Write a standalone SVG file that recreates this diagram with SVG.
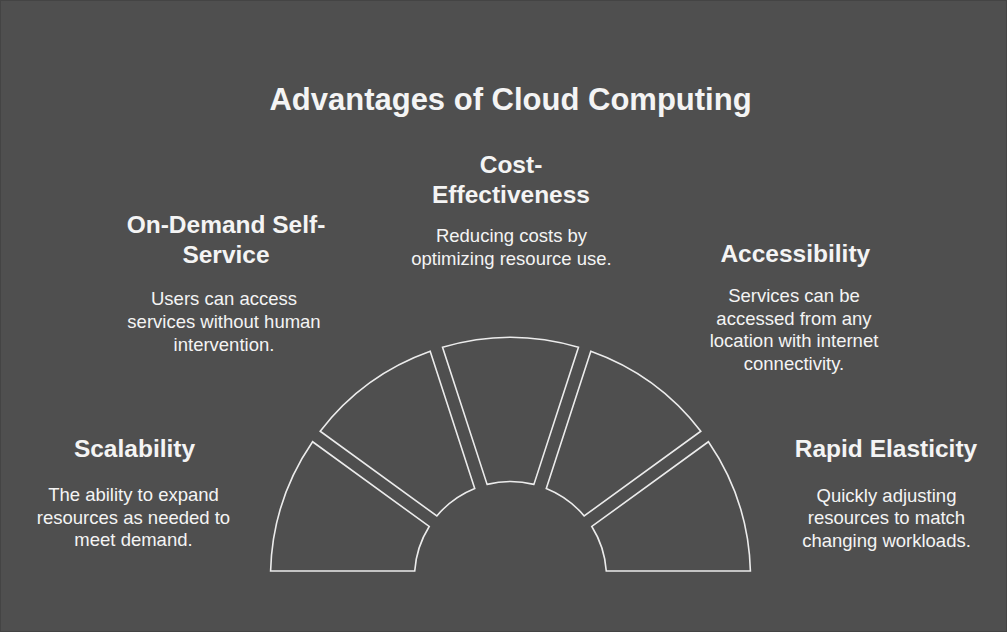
<svg xmlns="http://www.w3.org/2000/svg" width="1007" height="632" viewBox="0 0 1007 632">
<style>
.bg{fill:#4f4f4f;stroke:#444;stroke-width:1}
.seg{fill:none;stroke:#ececec;stroke-width:1.6;stroke-linejoin:miter}
.t{font-family:"Liberation Sans",Arial,sans-serif;fill:#f4f4f4;text-anchor:middle}
.title{font-size:31px;font-weight:bold}
.h{font-size:24.5px;font-weight:bold}
.b{font-size:18.5px}
</style>
<rect class="bg" x="0.5" y="0.5" width="1006" height="631"/>
<text class="t title" x="510.5" y="109.5">Advantages of Cloud Computing</text>
<g id="segments">
<path class="seg" d="M750.41 571.0 A240 240 0 0 0 708.42 441.74 L591.81 526.46 A96 96 0 0 1 606.28 571.0 Z"/>
<path class="seg" d="M700.78 431.23 A240 240 0 0 0 590.81 351.33 L546.28 488.42 A96 96 0 0 1 584.17 515.94 Z"/>
<path class="seg" d="M578.46 347.32 A240 240 0 0 0 442.54 347.32 L487.09 484.40 A96 96 0 0 1 533.91 484.40 Z"/>
<path class="seg" d="M430.19 351.33 A240 240 0 0 0 320.22 431.23 L436.83 515.94 A96 96 0 0 1 474.72 488.42 Z"/>
<path class="seg" d="M312.58 441.74 A240 240 0 0 0 270.59 571.0 L414.72 571.0 A96 96 0 0 1 429.19 526.46 Z"/>
</g>
<g id="scalability">
<text class="t h" x="134.5" y="457">Scalability</text>
<text class="t b" x="133.5" y="501">The ability to expand</text>
<text class="t b" x="133.5" y="523.5">resources as needed to</text>
<text class="t b" x="133.5" y="546">meet demand.</text>
</g>
<g id="on-demand">
<text class="t h" x="226" y="233.3">On-Demand Self-</text>
<text class="t h" x="226" y="263.3">Service</text>
<text class="t b" x="224" y="305">Users can access</text>
<text class="t b" x="224" y="327.7">services without human</text>
<text class="t b" x="224" y="350.5">intervention.</text>
</g>
<g id="cost">
<text class="t h" x="511" y="173.3">Cost-</text>
<text class="t h" x="511" y="203.3">Effectiveness</text>
<text class="t b" x="511.5" y="242">Reducing costs by</text>
<text class="t b" x="511.5" y="264.5">optimizing resource use.</text>
</g>
<g id="accessibility">
<text class="t h" x="795.3" y="261.7">Accessibility</text>
<text class="t b" x="794" y="302">Services can be</text>
<text class="t b" x="794" y="324.7">accessed from any</text>
<text class="t b" x="794" y="347.4">location with internet</text>
<text class="t b" x="794" y="370">connectivity.</text>
</g>
<g id="rapid-elasticity">
<text class="t h" x="886" y="456.7">Rapid Elasticity</text>
<text class="t b" x="886.5" y="501.5">Quickly adjusting</text>
<text class="t b" x="886.5" y="524">resources to match</text>
<text class="t b" x="886.5" y="546.5">changing workloads.</text>
</g>
</svg>
